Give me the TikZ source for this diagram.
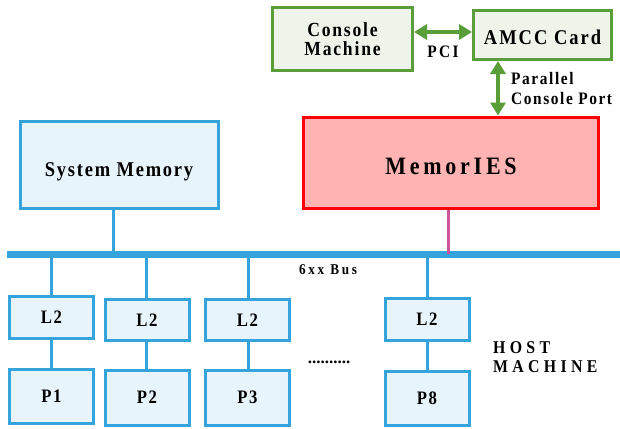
\documentclass[tikz,border=0pt]{standalone}
\usepackage{fontspec}
\setmainfont{Liberation Serif}
\newfontfamily\df[FakeStretch=0.88]{Liberation Serif}
\usetikzlibrary{arrows.meta,calc}
\definecolor{bl}{HTML}{35A4DC}
\definecolor{blf}{HTML}{E8F4FB}
\definecolor{gr}{HTML}{5A9E3A}
\definecolor{grf}{HTML}{EEF4EA}
\definecolor{rd}{HTML}{FF0000}
\definecolor{rdf}{HTML}{FFB3B3}
\definecolor{mg}{HTML}{CC5599}
\newcommand\fnt[3]{\df\bfseries\fontsize{#1}{#2}\selectfont\addfontfeature{LetterSpace=#3}}
\begin{document}
\begin{tikzpicture}[x=1pt,y=-1pt,
  bbox/.style={draw=bl, fill=blf, line width=3pt, inner sep=0pt, align=center},
  gbox/.style={draw=gr, fill=grf, line width=3pt, inner sep=0pt, align=center},
  wire/.style={draw=bl, line width=3pt},
  garrow/.style={draw=gr, line width=4pt, {Triangle[length=13pt,width=15pt]}-{Triangle[length=13pt,width=15pt]}},
  lbl/.style={inner sep=0pt, align=left}]
\useasboundingbox (0,0) rectangle (620,428);
% top
\node[gbox, minimum width=140, minimum height=62, font=\fnt{20}{18.5}{9}] (cm) at (342.5,39) {Console\\Machine};
\node[gbox, minimum width=138, minimum height=49, text height=20pt, text depth=0pt, font=\fnt{21}{21}{9.5}] (amcc) at (542.5,35) {AMCC Card};
\node[draw=rd, fill=rdf, line width=3pt, minimum width=295, minimum height=91, inner sep=0pt, text height=23.5pt, text depth=0pt, font=\fnt{25}{25}{15}] (mem) at (451,162.5) {MemorIES};
\node[bbox, minimum width=198, minimum height=87, text height=22pt, text depth=0pt, font=\fnt{21}{21}{8.5}] (sm) at (119,165) {System Memory};
\draw[garrow] ([yshift=7pt]cm.east) -- ([yshift=3pt]amcc.west);
\node[lbl, font=\fnt{17.5}{17.5}{13}] (pci) at (443,52) {PCI};
\coordinate (px) at (498,0);
\draw[garrow] (px |- amcc.south) -- (px |- mem.north);
\node[lbl, anchor=west, font=\fnt{17.5}{20}{9}] (pcp) at (511,89) {Parallel\\Console Port};
% bus
\coordinate (busL) at (7,254);
\coordinate (busR) at (620,254);
\draw[draw=bl, line width=7pt] (busL) -- (busR);
\node[lbl, font=\fnt{15}{15}{18}] (bus) at (328,270) {6xx Bus};
\coordinate (smx) at (113.5,0);
\draw[wire] (smx |- sm.south) -- (smx |- busL);
\coordinate (mgx) at (448,0);
\draw[draw=mg, line width=3pt] (mgx |- mem.south) -- (mgx |- busL);
% L2 and P
\node[bbox, minimum width=84, minimum height=42, font=\fnt{19}{19}{8}] (l1) at (51.5,317.5) {L2};
\node[bbox, minimum width=84, minimum height=41, font=\fnt{19}{19}{8}] (l2) at (147,320) {L2};
\node[bbox, minimum width=84, minimum height=41, font=\fnt{19}{19}{8}] (l3) at (247.5,320) {L2};
\node[bbox, minimum width=84, minimum height=42, font=\fnt{19}{19}{8}] (l4) at (427,319) {L2};
\node[bbox, minimum width=84, minimum height=54, font=\fnt{19}{19}{8}] (p1) at (51.5,396.5) {P1};
\node[bbox, minimum width=84, minimum height=55, font=\fnt{19}{19}{8}] (p2) at (147,397.5) {P2};
\node[bbox, minimum width=84, minimum height=55, font=\fnt{19}{19}{8}] (p3) at (247.5,397.5) {P3};
\node[bbox, minimum width=84, minimum height=54, font=\fnt{19}{19}{8}] (p4) at (427,398) {P8};
\foreach \n/\xx in {1/51,2/146,3/248,4/427}{
  \coordinate (d\n) at (\xx,0);
  \draw[wire] (d\n |- busL) -- (d\n |- l\n.north);
  \draw[wire] (d\n |- l\n.south) -- (d\n |- p\n.north);
}
\node[lbl, font=\bfseries\fontsize{17}{17}\selectfont] (dots) at (329,362) {..........};
\node[lbl, anchor=west, font=\fnt{18}{19}{24}] (host) at (493,357) {HOST\\MACHINE};
\end{tikzpicture}
\end{document}
